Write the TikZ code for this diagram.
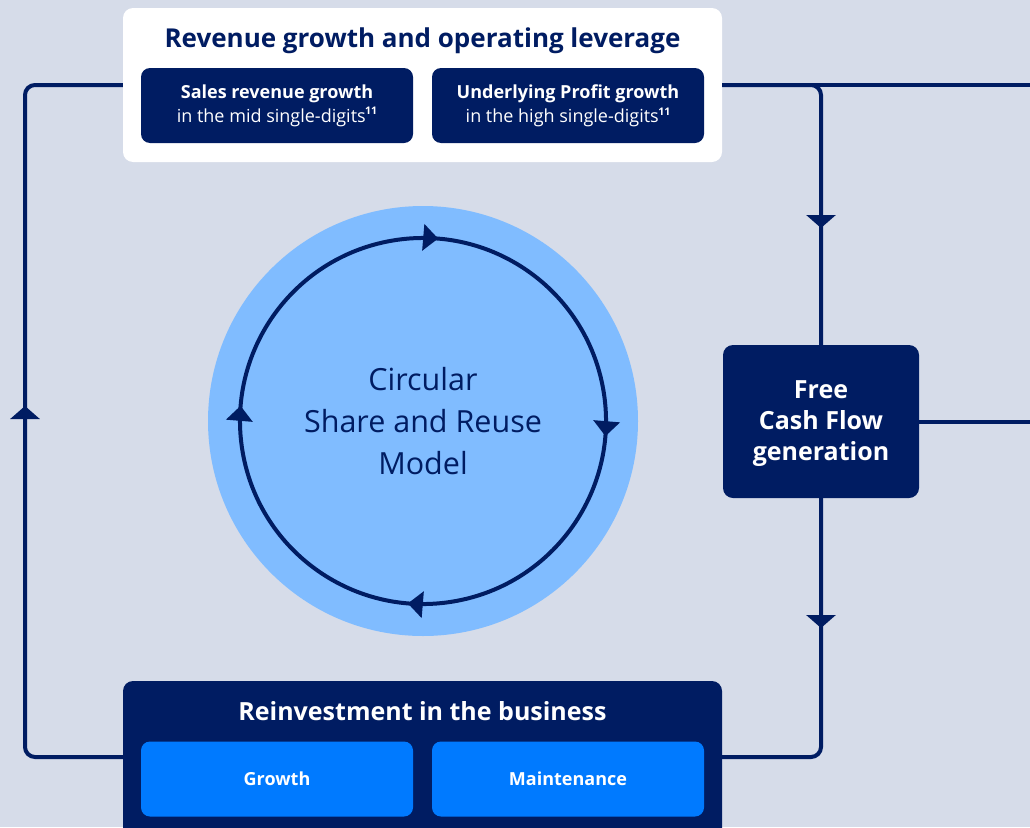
\documentclass[tikz,border=0pt]{standalone}
\usepackage{fontspec}
\setmainfont{Open Sans}
\usetikzlibrary{arrows.meta,decorations.markings}
\definecolor{bg}{RGB}{214,220,233}
\definecolor{navy}{RGB}{0,28,98}
\definecolor{ltblue}{RGB}{128,188,255}
\definecolor{brblue}{RGB}{0,122,255}
\newcommand{\supnum}[1]{\raisebox{0.75ex}{\fontsize{10.5}{10}\selectfont\bfseries\kern-0.5pt #1}}
\begin{document}
\begin{tikzpicture}[x=1pt,y=-1pt,
  flow/.style={draw=navy, line width=4pt, rounded corners=10pt},
  tipline/.style={draw=navy, line width=4pt, -{Triangle[width=29pt,length=13pt]}},
  darkbox/.style={fill=navy, rounded corners=9pt, text=white, inner sep=0pt, align=center},
  subbox/.style={darkbox, minimum width=272pt, minimum height=75pt, font=\fontsize{18}{24}\selectfont},
  bluebox/.style={subbox, fill=brblue, font=\fontsize{18}{24}\selectfont\bfseries},
  headtext/.style={font=\fontsize{25}{30}\selectfont\bfseries, inner sep=0pt}
]
\clip (0,0) rectangle (1030,827);
\fill[bg] (0,0) rectangle (1030,827);

% connector coordinates
\coordinate (tl) at (123,85);
\coordinate (tr) at (722,85);
\coordinate (redge) at (1030,85);
\coordinate (bl) at (123,757);
\coordinate (br) at (722,757);
\coordinate (lcorner) at (25,85);
\coordinate (medge) at (1030,421.5);

% lines
\draw[flow] (bl) -| (lcorner) -- (tl);
\draw[flow] (tr) -- (redge);

% top box
\node[fill=white, rounded corners=10pt, minimum width=599pt, minimum height=154pt, inner sep=0pt] (top) at (422.5,85) {};
\node[headtext, text=navy, font=\fontsize{26}{30}\selectfont\bfseries] (toptitle) at (422.5,41) {Revenue growth and operating leverage};
\node[subbox] (s1) at (277,105.5) {\textbf{Sales revenue growth}\\in the mid single-digits\supnum{11}};
\node[subbox] (s2) at (568,105.5) {\textbf{Underlying Profit growth}\\in the high single-digits\supnum{11}};

% free cash flow
\node[darkbox, minimum width=196pt, minimum height=153pt, rounded corners=10pt] (fcf) at (821,421.5) {};
\node[text=white, align=center, inner sep=0pt, font=\fontsize{25}{31}\selectfont\bfseries] (fcftext) at (821,423.5) {Free\\Cash Flow\\generation};
\draw[flow] (top.east |- tr) -| (fcf.north);
\draw[flow] (fcf.south) |- (br);
\draw[flow] (fcf.east) -- (medge);

% arrowheads on straight lines
\coordinate (la0) at (25,440);
\coordinate (la1) at (25,406);
\draw[tipline] (la0) -- (la1);
\coordinate (ra0) at (821,195);
\coordinate (ra1) at (821,228);
\draw[tipline] (ra0) -- (ra1);
\coordinate (rb0) at (821,595);
\coordinate (rb1) at (821,628);
\draw[tipline] (rb0) -- (rb1);

% circle
\node[circle, fill=ltblue, minimum size=430pt, inner sep=0pt] (outer) at (423,421) {};
\draw[navy, line width=4pt, postaction={decorate},
  decoration={markings,
    mark=at position 0.041 with {\arrow{Triangle[width=26pt,length=15pt]}},
    mark=at position 0.291 with {\arrow{Triangle[width=26pt,length=15pt]}},
    mark=at position 0.541 with {\arrow{Triangle[width=26pt,length=15pt]}},
    mark=at position 0.791 with {\arrow{Triangle[width=26pt,length=15pt]}}}]
  (outer.center) ++(-100:183) arc[start angle=-100, end angle=260, radius=183];
\node[text=navy, align=center, font=\fontsize{30.5}{42}\selectfont, inner sep=0pt] (ctext) at (423,421) {Circular\\Share and Reuse\\Model};

% bottom box
\node[darkbox, minimum width=599pt, minimum height=170pt, rounded corners=10pt] (bot) at (422.5,766) {};
\node[headtext, text=white] (bottitle) at (422.5,711) {Reinvestment in the business};
\node[bluebox] (g1) at (277,779) {Growth};
\node[bluebox] (g2) at (568,779) {Maintenance};
\end{tikzpicture}
\end{document}
